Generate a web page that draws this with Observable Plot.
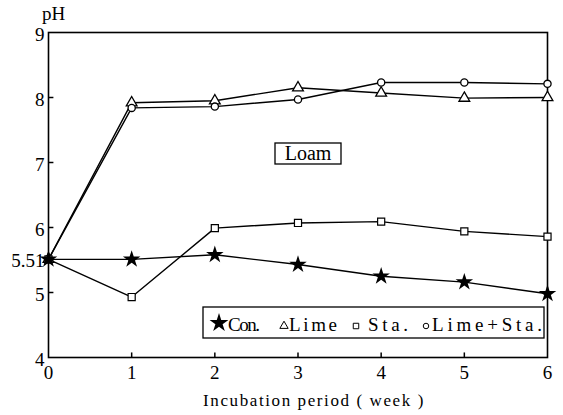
<!DOCTYPE html>
<html><head><meta charset="utf-8">
<script src="https://cdn.jsdelivr.net/npm/d3@7"></script>
<script src="https://cdn.jsdelivr.net/npm/@observablehq/plot@0.6"></script>
<style>
body{margin:0;background:#fff}
#chart{position:relative;width:563px;height:415px}
</style>
</head><body><div id="chart"></div>
<script>
const weeks = [0, 1, 2, 3, 4, 5, 6];
const con = [5.51, 5.51, 5.58, 5.43, 5.25, 5.16, 4.98];
const lime = [5.51, 7.92, 7.95, 8.15, 8.07, 7.99, 8.0];
const sta = [5.51, 4.93, 5.99, 6.07, 6.09, 5.94, 5.86];
const limeSta = [5.51, 7.84, 7.86, 7.97, 8.23, 8.23, 8.21];
const yTicks = [4, 5, 5.51, 6, 7, 8, 9];
const yTickLabels = ["4", "5", "5.51", "6", "7", "8", "9"];
const xTicks = [0, 1, 2, 3, 4, 5, 6];
const seriesNames = ["Con.", "Lime", "Sta.", "Lime+Sta."];
const xTitle = "Incubation period ( week )";
const yTitle = "pH";
const panelLabel = "Loam";

const seriesValues = [con, lime, sta, limeSta];
const data = [];
seriesNames.forEach((s, i) => weeks.forEach((w, j) => data.push({series: s, week: w, ph: seriesValues[i][j]})));

const FONT = "'Liberation Serif', 'Times New Roman', serif";
const W = 563, H = 415;
const plot = Plot.plot({
  width: W, height: H,
  marginLeft: 48, marginRight: 16, marginTop: 32, marginBottom: 58,
  style: {background: "#fff", overflow: "visible", fontFamily: FONT},
  x: {domain: [0, 6], axis: null},
  y: {domain: [4, 9], axis: null},
  marks: [
    Plot.frame({stroke: "#000", strokeWidth: 1.6}),
    Plot.ruleY(yTicks.filter(v => v !== 4 && v !== 9 && v !== 5.51), {y: d => d, x1: 0, x2: 0.065, stroke: "#000", strokeWidth: 1.5}),
    Plot.ruleX(xTicks.filter(v => v !== 0 && v !== 6), {x: d => d, y1: 4, y2: 4.07, stroke: "#000", strokeWidth: 1.5}),
    Plot.text(yTicks, {x: 0, y: d => d, text: (d, i) => yTickLabels[i], textAnchor: "end", dx: -4, dy: 2, fontSize: 19, fill: "#000"}),
    Plot.text(xTicks, {x: d => d, y: 4, text: d => String(d), dy: 15, fontSize: 19, fill: "#000"}),
    Plot.line(data, {x: "week", y: "ph", z: "series", stroke: "#000", strokeWidth: 1.4}),
    Plot.dot(data.filter(d => d.series === "Lime"), {x: "week", y: "ph", symbol: "triangle", r: 4, stroke: "#000", fill: "#fff", strokeWidth: 1.3}),
    Plot.dot(data.filter(d => d.series === "Lime+Sta."), {x: "week", y: "ph", symbol: "circle", r: 3.6, stroke: "#000", fill: "#fff", strokeWidth: 1.3}),
    Plot.dot(data.filter(d => d.series === "Sta."), {x: "week", y: "ph", symbol: "square", r: 4, stroke: "#000", fill: "#fff", strokeWidth: 1.2}),
    Plot.dot(data.filter(d => d.series === "Con."), {x: "week", y: "ph", symbol: "star", r: 5.5, fill: "#000", stroke: "none"})
  ]
});
const chart = document.getElementById("chart");
chart.appendChild(plot);

const svg = d3.select(plot);
// axis titles
svg.append("text").attr("x", 42).attr("y", 20).attr("text-anchor", "start").attr("font-size", 19).attr("fill", "#000").text(yTitle);
svg.append("text").attr("x", 314).attr("y", 406).attr("text-anchor", "middle").attr("font-size", 17)
  .attr("letter-spacing", "1.6px").attr("fill", "#000").text(xTitle);

// panel label
const lg = svg.append("g");
lg.append("rect").attr("x", 275).attr("y", 143).attr("width", 66).attr("height", 21).attr("fill", "#fff").attr("stroke", "#000").attr("stroke-width", 1.3);
lg.append("text").attr("x", 308).attr("y", 160).attr("text-anchor", "middle").attr("font-size", 20).attr("fill", "#000").text(panelLabel);

// legend
const leg = svg.append("g");
leg.append("rect").attr("x", 203).attr("y", 307).attr("width", 341).attr("height", 31).attr("fill", "#fff").attr("stroke", "#000").attr("stroke-width", 1.3);
const sym = [d3.symbolStar, d3.symbolTriangle, d3.symbolSquare, d3.symbolCircle];
const symX = [219, 284, 356, 426];
const symSize = [110, 30, 30, 24];
const txtX = [228, 289, 368, 432];
const txtW = [32, 48, 40, 110];
seriesNames.forEach((s, i) => {
  leg.append("path").attr("d", d3.symbol(sym[i], symSize[i])()).attr("transform", `translate(${symX[i]},${i === 0 ? 323 : 326})`)
    .attr("fill", i === 0 ? "#000" : "#fff").attr("stroke", i === 0 ? "none" : "#000").attr("stroke-width", 1);
  leg.append("text").attr("x", txtX[i]).attr("y", 331).attr("text-anchor", "start").attr("font-size", 19).attr("fill", "#000")
    .attr("textLength", txtW[i]).attr("lengthAdjust", "spacing").text(s);
});
svg.selectAll("text").style("font-family", FONT);
</script>
</body></html>
